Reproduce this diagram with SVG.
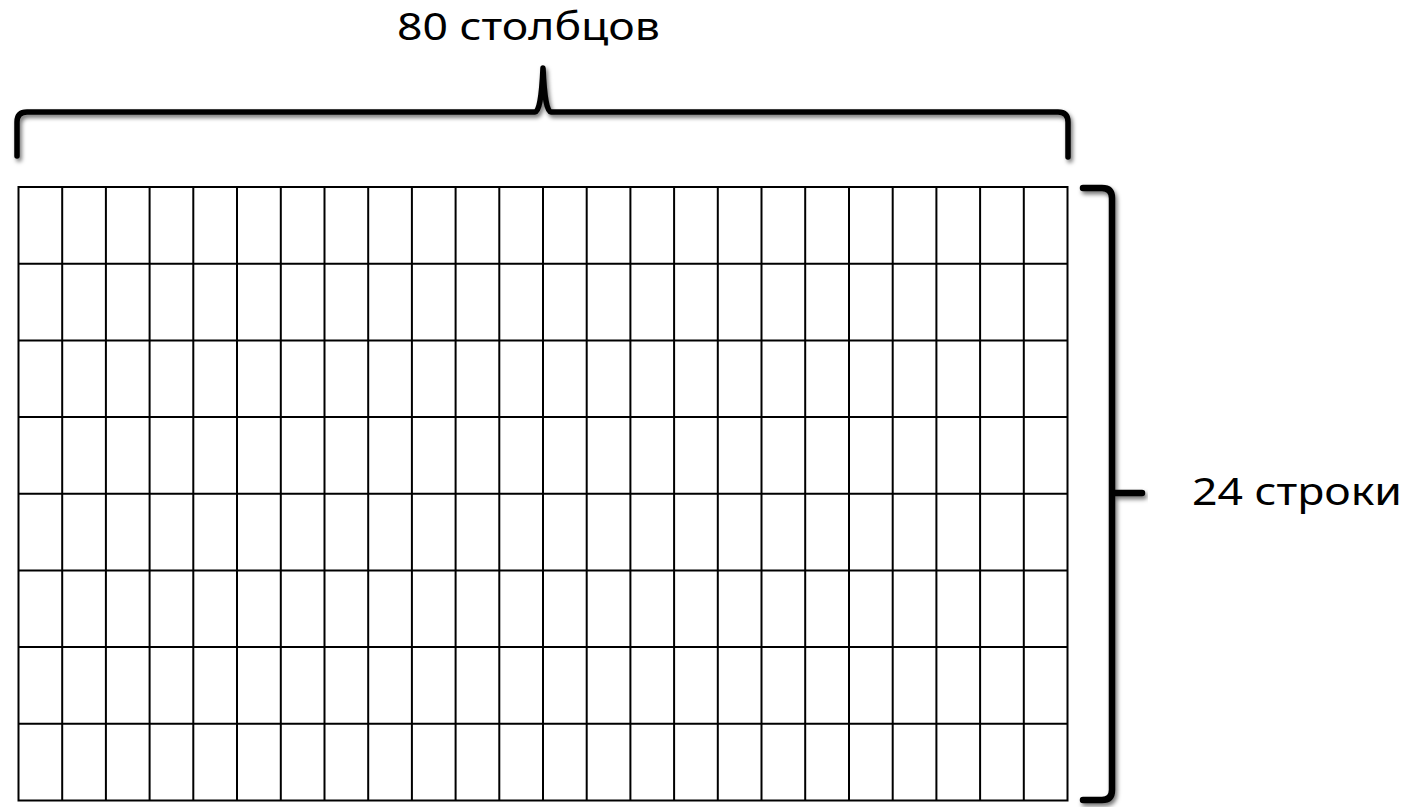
<svg xmlns="http://www.w3.org/2000/svg" width="1411" height="807" viewBox="0 0 1411 807">
<defs>
<filter id="sh" x="-10%" y="-10%" width="120%" height="130%">
<feDropShadow dx="2" dy="3" stdDeviation="2" flood-color="#000" flood-opacity="0.55"/>
</filter>
<style>
.grid{stroke:#000;stroke-width:2;fill:none}
.brace{stroke:#000;stroke-width:5.5;fill:none;stroke-linecap:round;stroke-linejoin:round;filter:url(#sh)}
.lbl{font-family:"Noto Sans","Open Sans","DejaVu Sans",sans-serif;font-size:39px;fill:#000}
</style>
</defs>
<rect width="1411" height="807" fill="#fff"/>
<g id="grid">
<rect class="grid" x="18.5" y="187" width="1049" height="613.5"/>
<path class="grid" d="M62.2,187V800.5M105.9,187V800.5M149.6,187V800.5M193.3,187V800.5M237,187V800.5M280.8,187V800.5M324.5,187V800.5M368.2,187V800.5M411.9,187V800.5M455.6,187V800.5M499.3,187V800.5M543,187V800.5M586.7,187V800.5M630.4,187V800.5M674.1,187V800.5M717.8,187V800.5M761.5,187V800.5M805.2,187V800.5M849,187V800.5M892.7,187V800.5M936.4,187V800.5M980.1,187V800.5M1023.8,187V800.5"/>
<path class="grid" d="M18.5,263.7H1067.5M18.5,340.4H1067.5M18.5,417.1H1067.5M18.5,493.8H1067.5M18.5,570.4H1067.5M18.5,647.1H1067.5M18.5,723.8H1067.5"/>
</g>
<g id="connectors">
<path class="brace" d="M17,156 L17,122 Q17,112 27,112 L535,112 Q541,112 543,68 Q545,112 551,112 L1058,112 Q1068,112 1068,122 L1068,157"/>
<path class="brace" style="stroke-width:6.5" d="M1083,188 L1102,188 Q1112,188 1112,198 L1112,790 Q1112,800 1102,800 L1083,800 M1112,493 L1142,493"/>
</g>
<g id="label-cols"><text class="lbl" x="397" y="40" textLength="263" lengthAdjust="spacingAndGlyphs">80 столбцов</text></g>
<g id="label-rows"><text class="lbl" x="1192" y="505" textLength="210" lengthAdjust="spacingAndGlyphs">24 строки</text></g>
</svg>
